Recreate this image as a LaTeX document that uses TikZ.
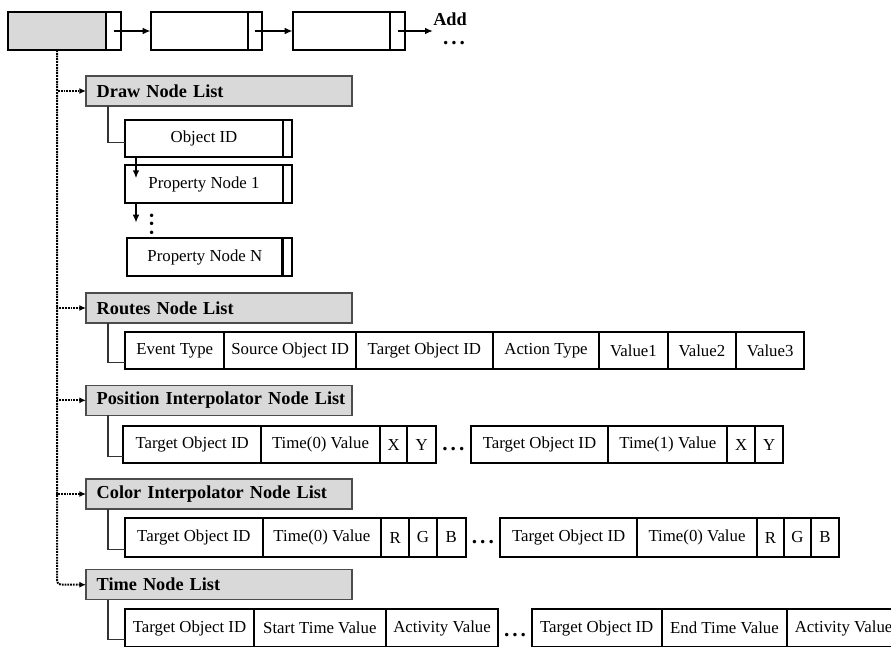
\documentclass[tikz,border=0pt]{standalone}
\usepackage{fontspec}
\setmainfont{Liberation Serif}
\usetikzlibrary{positioning,arrows.meta}

\newlength\pxu
\setlength\pxu{0.75pt}
\newcommand\dotsep{.\kern2.2pt.\kern2.2pt.}

\tikzset{
  cw/.style={minimum width=#1\pxu},
  cell/.style={draw, line width=1.3pt, inner sep=0pt, outer sep=0pt,
    minimum height=37.5\pxu, font=\fontsize{12.6}{15}\selectfont},
  listbody/.style={cell, minimum height=38\pxu},
  ptrcell/.style={cell, minimum height=38\pxu},
  listhead/.style={draw=black!70, line width=1pt, fill=black!15, anchor=west,
    inner xsep=10.7\pxu, inner ysep=0pt, outer sep=0pt, text width=244.6\pxu,
    align=left, minimum height=30\pxu, font=\fontsize{13.7}{16}\selectfont\bfseries},
  bold/.style={inner sep=0pt, font=\fontsize{13.7}{16}\selectfont\bfseries},
  ellip/.style={inner sep=0pt, font=\fontsize{16}{18}\selectfont\bfseries},
  link/.style={line width=1.3pt, -{Latex[length=6pt,width=5pt]}},
  dotlink/.style={line width=1.5pt, dash pattern=on 1.3pt off 0.8pt,
    -{Latex[length=5pt,width=4.5pt]}},
  tree/.style={line width=0.8pt, draw=black!80}
}

\begin{document}
\begin{tikzpicture}[x=0.75pt, y=-0.75pt]
\useasboundingbox (0,0) rectangle (891,646);
\clip (0,0) rectangle (891,646);

% main list
\node[listbody, cw=98, fill=black!15, anchor=west] (b1) at (8,31) {};
\node[ptrcell, cw=15, right=0pt of b1] (b1p) {};
\node[listbody, cw=97, anchor=west] (b2) at (150.7,31) {};
\node[ptrcell, cw=14, right=0pt of b2] (b2p) {};
\node[listbody, cw=97.3, anchor=west] (b3) at (292.7,31) {};
\node[ptrcell, cw=15, right=0pt of b3] (b3p) {};
\coordinate (addtip) at (433,31);
\node[bold] (add) at (450,19) {Add};
\node[ellip] (adddots) at (454,43.3) {\dotsep};

\draw[link] (b1p.center) -- (b2.west);
\draw[link] (b2p.center) -- (b3.west);
\draw[link] (b3p.center) -- (addtip);

% list heads
\node[listhead] (dhead) at (86,91) {Draw Node List};
\node[listhead] (rhead) at (86,308) {Routes Node List};
\node[listhead] (phead) at (86,400.3) {\mbox{Position Interpolator Node List}};
\node[listhead] (chead) at (86,494) {Color Interpolator Node List};
\node[listhead] (thead) at (86,584.7) {Time Node List};

\draw[dotlink] (b1.south) |- (dhead.west);
\draw[dotlink] (b1.south) |- (rhead.west);
\draw[dotlink] (b1.south) |- (phead.west);
\draw[dotlink] (b1.south) |- (chead.west);
\draw[dotlink, rounded corners=4\pxu] (b1.south) |- (thead.west);

% draw node list
\node[listbody, cw=157.4, minimum height=37.3\pxu, anchor=west] (objid) at (125.3,138.7) {Object ID};
\node[ptrcell, cw=9.3, minimum height=37.3\pxu, right=0pt of objid] (objidp) {};
\node[listbody, cw=157.4, minimum height=37.4\pxu, anchor=west] (prop1) at (125.3,184) {Property Node 1};
\node[ptrcell, cw=9.3, minimum height=37.4\pxu, right=0pt of prop1] (prop1p) {};
\node[listbody, cw=155.7, minimum height=37.7\pxu, anchor=west] (propn) at (127,257.2) {Property Node N};
\node[ptrcell, cw=9.3, minimum height=37.7\pxu, right=0pt of propn] (propnp) {};
\draw[line width=2.2pt] (propnp.north west) -- (propnp.south west);

\draw[tree] ([xshift=22\pxu]dhead.south west) |- ([yshift=14.6\pxu]objid.south west);
\coordinate (tip1) at (136,178.3);
\coordinate (tip2) at (136,222.7);
\draw[link] (tip1 |- objid.south) -- (tip1);
\draw[link] (tip2 |- prop1.south) -- (tip2);
\node[ellip, rotate=90] (vdots) at (151.7,224.3) {\dotsep};

% routes node list
\node[cell, cw=99, anchor=west] (rev) at (125.3,350.5) {Event Type};
\node[cell, cw=131.7, right=0pt of rev] (rsrc) {Source Object ID};
\node[cell, cw=136.7, right=0pt of rsrc] (rtgt) {Target Object ID};
\node[cell, cw=106.6, right=0pt of rtgt] (ract) {Action Type};
\node[cell, cw=68.4, right=0pt of ract] (rval1) {Value1};
\node[cell, cw=68.3, right=0pt of rval1] (rval2) {Value2};
\node[cell, cw=68.3, right=0pt of rval2] (rval3) {Value3};
\draw[tree] ([xshift=22\pxu]rhead.south west) |- ([yshift=7\pxu]rev.south west);

% position interpolator node list
\node[cell, cw=137.7, anchor=west] (ptgt0) at (123.3,444.5) {Target Object ID};
\node[cell, cw=119, right=0pt of ptgt0] (ptime0) {Time(0) Value};
\node[cell, cw=27.3, right=0pt of ptime0] (posx0) {X};
\node[cell, cw=28.7, right=0pt of posx0] (posy0) {Y};
\node[ellip] (pdots) at (453.4,449) {\dotsep};
\node[cell, cw=137.6, anchor=west] (ptgt1) at (470.7,444.5) {Target Object ID};
\node[cell, cw=119, right=0pt of ptgt1] (ptime1) {Time(1) Value};
\node[cell, cw=27.7, right=0pt of ptime1] (posx1) {X};
\node[cell, cw=28.3, right=0pt of posx1] (posy1) {Y};
\draw[tree] ([xshift=22\pxu]phead.south west) |- ([yshift=7\pxu]ptgt0.south west);

% color interpolator node list
\node[cell, cw=137.7, minimum height=38.4\pxu, anchor=west] (ctgt0) at (125,537.5) {Target Object ID};
\node[cell, cw=118.3, minimum height=38.4\pxu, right=0pt of ctgt0] (ctime0) {Time(0) Value};
\node[cell, cw=28.3, minimum height=38.4\pxu, right=0pt of ctime0] (colr0) {R};
\node[cell, cw=27.4, minimum height=38.4\pxu, right=0pt of colr0] (colg0) {G};
\node[cell, cw=29, minimum height=38.4\pxu, right=0pt of colg0] (colb0) {B};
\node[ellip] (cdots) at (482.9,541.7) {\dotsep};
\node[cell, cw=137.3, minimum height=38.4\pxu, anchor=west] (ctgt1) at (500,537.5) {Target Object ID};
\node[cell, cw=119.4, minimum height=38.4\pxu, right=0pt of ctgt1] (ctime1) {Time(0) Value};
\node[cell, cw=27.3, minimum height=38.4\pxu, right=0pt of ctime1] (colr1) {R};
\node[cell, cw=27, minimum height=38.4\pxu, right=0pt of colr1] (colg1) {G};
\node[cell, cw=28, minimum height=38.4\pxu, right=0pt of colg1] (colb1) {B};
\draw[tree] ([xshift=22\pxu]chead.south west) |- ([yshift=7\pxu]ctgt0.south west);

% time node list
\node[cell, cw=129, anchor=west] (ttgt0) at (125,628) {Target Object ID};
\node[cell, cw=131.7, right=0pt of ttgt0] (tstart) {Start Time Value};
\node[cell, cw=112.6, right=0pt of tstart] (tact0) {Activity Value};
\node[ellip] (tdots) at (515,635) {\dotsep};
\node[cell, cw=130, anchor=west] (ttgt1) at (531.7,628) {Target Object ID};
\node[cell, cw=125.6, right=0pt of ttgt1] (tend) {End Time Value};
\node[cell, cw=112.6, right=0pt of tend] (tact1) {Activity Value};
\draw[tree] ([xshift=22\pxu]thead.south west) |- ([yshift=7\pxu]ttgt0.south west);
\end{tikzpicture}
\end{document}
